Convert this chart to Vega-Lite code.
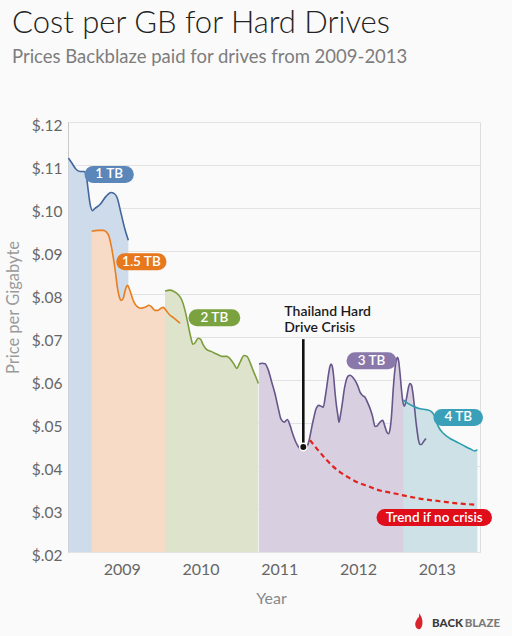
{
  "$schema": "https://vega.github.io/schema/vega-lite/v6.json",
  "width": 412,
  "height": 430,
  "autosize": {"type": "none"},
  "padding": {"left": 68, "top": 122, "right": 32, "bottom": 84},
  "background": "#fafafa",
  "config": {
    "font": "Lato",
    "view": {"stroke": "#dedede", "fill": null}
  },
  "title": {
    "text": "Cost per GB for Hard Drives",
    "subtitle": "Prices Backblaze paid for drives from 2009-2013",
    "anchor": "start",
    "frame": "group",
    "dx": -56,
    "offset": 51,
    "font": "Lato",
    "fontSize": 31,
    "fontWeight": 300,
    "color": "#222222",
    "subtitleFont": "Lato",
    "subtitleFontSize": 18.5,
    "subtitleFontWeight": 400,
    "subtitleColor": "#7d7d7d",
    "subtitlePadding": 8
  },
  "datasets": {
    "lines": [
      {"series": "1 TB", "t": 2008.324, "p": 0.1116},
      {"series": "1 TB", "t": 2008.369, "p": 0.1104},
      {"series": "1 TB", "t": 2008.420, "p": 0.1090},
      {"series": "1 TB", "t": 2008.470, "p": 0.1085},
      {"series": "1 TB", "t": 2008.521, "p": 0.1085},
      {"series": "1 TB", "t": 2008.547, "p": 0.1078},
      {"series": "1 TB", "t": 2008.572, "p": 0.1045},
      {"series": "1 TB", "t": 2008.597, "p": 0.1011},
      {"series": "1 TB", "t": 2008.629, "p": 0.0994},
      {"series": "1 TB", "t": 2008.661, "p": 0.0999},
      {"series": "1 TB", "t": 2008.724, "p": 0.1008},
      {"series": "1 TB", "t": 2008.801, "p": 0.1027},
      {"series": "1 TB", "t": 2008.864, "p": 0.1036},
      {"series": "1 TB", "t": 2008.902, "p": 0.1034},
      {"series": "1 TB", "t": 2008.940, "p": 0.1025},
      {"series": "1 TB", "t": 2008.991, "p": 0.0988},
      {"series": "1 TB", "t": 2009.042, "p": 0.0950},
      {"series": "1 TB", "t": 2009.084, "p": 0.0925},
      {"series": "1.5 TB", "t": 2008.619, "p": 0.0946},
      {"series": "1.5 TB", "t": 2008.699, "p": 0.0948},
      {"series": "1.5 TB", "t": 2008.763, "p": 0.0948},
      {"series": "1.5 TB", "t": 2008.807, "p": 0.0944},
      {"series": "1.5 TB", "t": 2008.839, "p": 0.0934},
      {"series": "1.5 TB", "t": 2008.864, "p": 0.0915},
      {"series": "1.5 TB", "t": 2008.893, "p": 0.0885},
      {"series": "1.5 TB", "t": 2008.921, "p": 0.0850},
      {"series": "1.5 TB", "t": 2008.947, "p": 0.0813},
      {"series": "1.5 TB", "t": 2008.972, "p": 0.0792},
      {"series": "1.5 TB", "t": 2008.997, "p": 0.0785},
      {"series": "1.5 TB", "t": 2009.023, "p": 0.0792},
      {"series": "1.5 TB", "t": 2009.048, "p": 0.0811},
      {"series": "1.5 TB", "t": 2009.074, "p": 0.0820},
      {"series": "1.5 TB", "t": 2009.099, "p": 0.0811},
      {"series": "1.5 TB", "t": 2009.124, "p": 0.0797},
      {"series": "1.5 TB", "t": 2009.156, "p": 0.0781},
      {"series": "1.5 TB", "t": 2009.194, "p": 0.0771},
      {"series": "1.5 TB", "t": 2009.245, "p": 0.0767},
      {"series": "1.5 TB", "t": 2009.296, "p": 0.0769},
      {"series": "1.5 TB", "t": 2009.347, "p": 0.0774},
      {"series": "1.5 TB", "t": 2009.385, "p": 0.0769},
      {"series": "1.5 TB", "t": 2009.423, "p": 0.0762},
      {"series": "1.5 TB", "t": 2009.461, "p": 0.0762},
      {"series": "1.5 TB", "t": 2009.499, "p": 0.0767},
      {"series": "1.5 TB", "t": 2009.528, "p": 0.0769},
      {"series": "1.5 TB", "t": 2009.563, "p": 0.0762},
      {"series": "1.5 TB", "t": 2009.601, "p": 0.0753},
      {"series": "1.5 TB", "t": 2009.664, "p": 0.0744},
      {"series": "1.5 TB", "t": 2009.741, "p": 0.0732},
      {"series": "2 TB", "t": 2009.550, "p": 0.0807},
      {"series": "2 TB", "t": 2009.613, "p": 0.0809},
      {"series": "2 TB", "t": 2009.664, "p": 0.0806},
      {"series": "2 TB", "t": 2009.715, "p": 0.0799},
      {"series": "2 TB", "t": 2009.766, "p": 0.0785},
      {"series": "2 TB", "t": 2009.804, "p": 0.0762},
      {"series": "2 TB", "t": 2009.842, "p": 0.0730},
      {"series": "2 TB", "t": 2009.874, "p": 0.0702},
      {"series": "2 TB", "t": 2009.905, "p": 0.0683},
      {"series": "2 TB", "t": 2009.937, "p": 0.0688},
      {"series": "2 TB", "t": 2009.969, "p": 0.0697},
      {"series": "2 TB", "t": 2010.001, "p": 0.0695},
      {"series": "2 TB", "t": 2010.032, "p": 0.0683},
      {"series": "2 TB", "t": 2010.077, "p": 0.0671},
      {"series": "2 TB", "t": 2010.140, "p": 0.0666},
      {"series": "2 TB", "t": 2010.210, "p": 0.0660},
      {"series": "2 TB", "t": 2010.273, "p": 0.0655},
      {"series": "2 TB", "t": 2010.337, "p": 0.0655},
      {"series": "2 TB", "t": 2010.382, "p": 0.0648},
      {"series": "2 TB", "t": 2010.426, "p": 0.0637},
      {"series": "2 TB", "t": 2010.460, "p": 0.0627},
      {"series": "2 TB", "t": 2010.502, "p": 0.0641},
      {"series": "2 TB", "t": 2010.553, "p": 0.0657},
      {"series": "2 TB", "t": 2010.591, "p": 0.0655},
      {"series": "2 TB", "t": 2010.629, "p": 0.0641},
      {"series": "2 TB", "t": 2010.667, "p": 0.0623},
      {"series": "2 TB", "t": 2010.706, "p": 0.0606},
      {"series": "2 TB", "t": 2010.735, "p": 0.0592},
      {"series": "3 TB", "t": 2010.744, "p": 0.0637},
      {"series": "3 TB", "t": 2010.782, "p": 0.0639},
      {"series": "3 TB", "t": 2010.820, "p": 0.0638},
      {"series": "3 TB", "t": 2010.862, "p": 0.0623},
      {"series": "3 TB", "t": 2010.902, "p": 0.0597},
      {"series": "3 TB", "t": 2010.947, "p": 0.0568},
      {"series": "3 TB", "t": 2010.985, "p": 0.0537},
      {"series": "3 TB", "t": 2011.023, "p": 0.0509},
      {"series": "3 TB", "t": 2011.065, "p": 0.0502},
      {"series": "3 TB", "t": 2011.103, "p": 0.0508},
      {"series": "3 TB", "t": 2011.137, "p": 0.0495},
      {"series": "3 TB", "t": 2011.169, "p": 0.0476},
      {"series": "3 TB", "t": 2011.201, "p": 0.0460},
      {"series": "3 TB", "t": 2011.232, "p": 0.0448},
      {"series": "3 TB", "t": 2011.264, "p": 0.0440},
      {"series": "3 TB", "t": 2011.296, "p": 0.0436},
      {"series": "3 TB", "t": 2011.321, "p": 0.0437},
      {"series": "3 TB", "t": 2011.347, "p": 0.0443},
      {"series": "3 TB", "t": 2011.370, "p": 0.0453},
      {"series": "3 TB", "t": 2011.391, "p": 0.0469},
      {"series": "3 TB", "t": 2011.413, "p": 0.0490},
      {"series": "3 TB", "t": 2011.438, "p": 0.0511},
      {"series": "3 TB", "t": 2011.463, "p": 0.0530},
      {"series": "3 TB", "t": 2011.486, "p": 0.0539},
      {"series": "3 TB", "t": 2011.505, "p": 0.0541},
      {"series": "3 TB", "t": 2011.531, "p": 0.0539},
      {"series": "3 TB", "t": 2011.560, "p": 0.0537},
      {"series": "3 TB", "t": 2011.582, "p": 0.0557},
      {"series": "3 TB", "t": 2011.603, "p": 0.0583},
      {"series": "3 TB", "t": 2011.626, "p": 0.0613},
      {"series": "3 TB", "t": 2011.645, "p": 0.0632},
      {"series": "3 TB", "t": 2011.658, "p": 0.0637},
      {"series": "3 TB", "t": 2011.674, "p": 0.0632},
      {"series": "3 TB", "t": 2011.690, "p": 0.0611},
      {"series": "3 TB", "t": 2011.709, "p": 0.0571},
      {"series": "3 TB", "t": 2011.728, "p": 0.0539},
      {"series": "3 TB", "t": 2011.747, "p": 0.0516},
      {"series": "3 TB", "t": 2011.759, "p": 0.0502},
      {"series": "3 TB", "t": 2011.778, "p": 0.0518},
      {"series": "3 TB", "t": 2011.801, "p": 0.0545},
      {"series": "3 TB", "t": 2011.829, "p": 0.0581},
      {"series": "3 TB", "t": 2011.857, "p": 0.0603},
      {"series": "3 TB", "t": 2011.880, "p": 0.0610},
      {"series": "3 TB", "t": 2011.899, "p": 0.0611},
      {"series": "3 TB", "t": 2011.931, "p": 0.0607},
      {"series": "3 TB", "t": 2011.963, "p": 0.0599},
      {"series": "3 TB", "t": 2011.994, "p": 0.0588},
      {"series": "3 TB", "t": 2012.026, "p": 0.0572},
      {"series": "3 TB", "t": 2012.058, "p": 0.0564},
      {"series": "3 TB", "t": 2012.090, "p": 0.0560},
      {"series": "3 TB", "t": 2012.121, "p": 0.0548},
      {"series": "3 TB", "t": 2012.153, "p": 0.0534},
      {"series": "3 TB", "t": 2012.185, "p": 0.0516},
      {"series": "3 TB", "t": 2012.217, "p": 0.0492},
      {"series": "3 TB", "t": 2012.242, "p": 0.0493},
      {"series": "3 TB", "t": 2012.280, "p": 0.0502},
      {"series": "3 TB", "t": 2012.314, "p": 0.0506},
      {"series": "3 TB", "t": 2012.344, "p": 0.0491},
      {"series": "3 TB", "t": 2012.369, "p": 0.0478},
      {"series": "3 TB", "t": 2012.388, "p": 0.0475},
      {"series": "3 TB", "t": 2012.407, "p": 0.0485},
      {"series": "3 TB", "t": 2012.426, "p": 0.0516},
      {"series": "3 TB", "t": 2012.449, "p": 0.0581},
      {"series": "3 TB", "t": 2012.471, "p": 0.0627},
      {"series": "3 TB", "t": 2012.490, "p": 0.0648},
      {"series": "3 TB", "t": 2012.502, "p": 0.0653},
      {"series": "3 TB", "t": 2012.515, "p": 0.0646},
      {"series": "3 TB", "t": 2012.534, "p": 0.0616},
      {"series": "3 TB", "t": 2012.551, "p": 0.0581},
      {"series": "3 TB", "t": 2012.566, "p": 0.0555},
      {"series": "3 TB", "t": 2012.589, "p": 0.0539},
      {"series": "3 TB", "t": 2012.604, "p": 0.0546},
      {"series": "3 TB", "t": 2012.623, "p": 0.0564},
      {"series": "3 TB", "t": 2012.642, "p": 0.0583},
      {"series": "3 TB", "t": 2012.661, "p": 0.0592},
      {"series": "3 TB", "t": 2012.680, "p": 0.0588},
      {"series": "3 TB", "t": 2012.693, "p": 0.0576},
      {"series": "3 TB", "t": 2012.716, "p": 0.0541},
      {"series": "3 TB", "t": 2012.735, "p": 0.0506},
      {"series": "3 TB", "t": 2012.754, "p": 0.0478},
      {"series": "3 TB", "t": 2012.769, "p": 0.0460},
      {"series": "3 TB", "t": 2012.788, "p": 0.0450},
      {"series": "3 TB", "t": 2012.807, "p": 0.0450},
      {"series": "3 TB", "t": 2012.830, "p": 0.0456},
      {"series": "3 TB", "t": 2012.864, "p": 0.0464},
      {"series": "4 TB", "t": 2012.576, "p": 0.0554},
      {"series": "4 TB", "t": 2012.639, "p": 0.0545},
      {"series": "4 TB", "t": 2012.703, "p": 0.0539},
      {"series": "4 TB", "t": 2012.788, "p": 0.0533},
      {"series": "4 TB", "t": 2012.873, "p": 0.0531},
      {"series": "4 TB", "t": 2012.937, "p": 0.0526},
      {"series": "4 TB", "t": 2012.978, "p": 0.0514},
      {"series": "4 TB", "t": 2013.020, "p": 0.0492},
      {"series": "4 TB", "t": 2013.084, "p": 0.0476},
      {"series": "4 TB", "t": 2013.169, "p": 0.0464},
      {"series": "4 TB", "t": 2013.254, "p": 0.0456},
      {"series": "4 TB", "t": 2013.338, "p": 0.0448},
      {"series": "4 TB", "t": 2013.423, "p": 0.0440},
      {"series": "4 TB", "t": 2013.486, "p": 0.0435},
      {"series": "4 TB", "t": 2013.516, "p": 0.0438}
    ],
    "trend": [
      {"t": 2011.391, "p": 0.0460},
      {"t": 2011.493, "p": 0.0437},
      {"t": 2011.603, "p": 0.0414},
      {"t": 2011.683, "p": 0.0399},
      {"t": 2011.772, "p": 0.0386},
      {"t": 2011.874, "p": 0.0374},
      {"t": 2011.984, "p": 0.0363},
      {"t": 2012.128, "p": 0.0353},
      {"t": 2012.280, "p": 0.0343},
      {"t": 2012.445, "p": 0.0337},
      {"t": 2012.619, "p": 0.0330},
      {"t": 2012.826, "p": 0.0323},
      {"t": 2013.042, "p": 0.0318},
      {"t": 2013.270, "p": 0.0313},
      {"t": 2013.508, "p": 0.0310}
    ],
    "crisis": [
      {"t": 2011.306, "p": 0.0695, "p2": 0.0444}
    ],
    "crisisText": [
      {"t": 2011.065, "p": 0.0750, "text": "Thailand Hard\nDrive Crisis"}
    ],
    "pills": [
      {"label": "1 TB", "t": 2008.841, "t1": 2008.636, "t2": 2009.046, "p": 0.1078},
      {"label": "1.5 TB", "t": 2009.250, "t1": 2009.038, "t2": 2009.461, "p": 0.0875},
      {"label": "2 TB", "t": 2010.177, "t1": 2009.956, "t2": 2010.398, "p": 0.0745},
      {"label": "3 TB", "t": 2012.173, "t1": 2011.963, "t2": 2012.382, "p": 0.0645},
      {"label": "4 TB", "t": 2013.274, "t1": 2013.067, "t2": 2013.480, "p": 0.0513},
      {"label": "Trend if no crisis", "t": 2012.969, "t1": 2012.344, "t2": 2013.594, "p": 0.0280}
    ],
    "logo": [
      {"label": "BACK", "t": 2013.334, "p": 0.00335},
      {"label": "BLAZE", "t": 2013.804, "p": 0.00335}
    ],
    "flame": [
      {"t": 2012.773, "p": 0.00388}
    ]
  },
  "layer": [
    {
      "data": {"name": "lines"},
      "mark": {"type": "area", "interpolate": "monotone", "opacity": 1},
      "encoding": {
        "x": {
          "field": "t", "type": "quantitative",
          "scale": {"domain": [2008.318, 2013.55], "nice": false, "zero": false},
          "axis": {
            "title": "Year",
            "values": [2009, 2010, 2011, 2012, 2013],
            "format": "d",
            "grid": false,
            "domain": false,
            "ticks": false,
            "tickSize": 0,
            "labelPadding": 9,
            "labelFontSize": 16,
            "labelColor": "#666666",
            "labelFont": "Lato",
            "titleFont": "Lato",
            "titleFontSize": 16,
            "titleFontWeight": "normal",
            "titleColor": "#888888",
            "titleBaseline": "alphabetic",
            "titleX": 203,
            "titleY": 51
          }
        },
        "y": {
          "field": "p", "type": "quantitative", "stack": null,
          "scale": {"domain": [0.02, 0.12], "nice": false, "zero": false},
          "axis": {
            "title": "Price per Gigabyte",
            "values": [0.02, 0.03, 0.04, 0.05, 0.06, 0.07, 0.08, 0.09, 0.10, 0.11, 0.12],
            "labelExpr": "'$' + substring(format(datum.value, '.2f'), 1)",
            "grid": true,
            "gridColor": "#e3e3e3",
            "domainColor": "#c9c9c9",
            "ticks": false,
            "tickSize": 0,
            "labelPadding": 6,
            "labelOffset": 3,
            "labelFontSize": 15.5,
            "labelColor": "#666666",
            "labelFont": "Lato",
            "titleFont": "Lato",
            "titleFontSize": 16.5,
            "titleFontWeight": "normal",
            "titleColor": "#9a9a9a",
            "titleAngle": -90,
            "titleAlign": "center",
            "titleBaseline": "alphabetic",
            "titleX": -50,
            "titleY": 185
          }
        },
        "y2": {"datum": 0.02},
        "color": {
          "field": "series", "type": "nominal", "legend": null,
          "scale": {
            "domain": ["1 TB", "1.5 TB", "2 TB", "3 TB", "4 TB"],
            "range": ["#cedbea", "#f8dbc7", "#dee3cb", "#d8cfe0", "#cde1e6"]
          }
        }
      }
    },
    {
      "data": {"name": "lines"},
      "mark": {"type": "line", "interpolate": "monotone", "strokeWidth": 1.6},
      "encoding": {
        "x": {"field": "t", "type": "quantitative"},
        "y": {"field": "p", "type": "quantitative"},
        "color": {
          "field": "series", "type": "nominal", "legend": null,
          "scale": {
            "domain": ["1 TB", "1.5 TB", "2 TB", "3 TB", "4 TB"],
            "range": ["#41679c", "#e67e22", "#7e9d3e", "#66568a", "#2a9cb0"]
          }
        }
      }
    },
    {
      "data": {"name": "trend"},
      "mark": {"type": "line", "interpolate": "monotone", "strokeWidth": 2.2, "strokeDash": [5, 3.5], "color": "#e3231b"},
      "encoding": {
        "x": {"field": "t", "type": "quantitative"},
        "y": {"field": "p", "type": "quantitative"}
      }
    },
    {
      "data": {"name": "crisis"},
      "mark": {"type": "rule", "color": "#111111", "strokeWidth": 2.6},
      "encoding": {
        "x": {"field": "t", "type": "quantitative"},
        "y": {"field": "p", "type": "quantitative"},
        "y2": {"field": "p2"}
      }
    },
    {
      "data": {"name": "crisis"},
      "mark": {"type": "point", "filled": true, "size": 55, "color": "#111111", "stroke": "#ffffff", "strokeWidth": 1.5, "opacity": 1},
      "encoding": {
        "x": {"field": "t", "type": "quantitative"},
        "y": {"field": "p2", "type": "quantitative"}
      }
    },
    {
      "data": {"name": "crisisText"},
      "mark": {"type": "text", "align": "left", "baseline": "alphabetic", "lineBreak": "\n", "lineHeight": 16.7, "font": "Lato", "fontSize": 14, "fontWeight": 600, "color": "#1a1a1a"},
      "encoding": {
        "x": {"field": "t", "type": "quantitative"},
        "y": {"field": "p", "type": "quantitative"},
        "text": {"field": "text"}
      }
    },
    {
      "data": {"name": "pills"},
      "mark": {"type": "rule", "strokeWidth": 17, "strokeCap": "round", "opacity": 1},
      "encoding": {
        "x": {"field": "t1", "type": "quantitative"},
        "x2": {"field": "t2"},
        "y": {"field": "p", "type": "quantitative"},
        "color": {
          "field": "label", "type": "nominal", "legend": null,
          "scale": {
            "domain": ["1 TB", "1.5 TB", "2 TB", "3 TB", "4 TB", "Trend if no crisis"],
            "range": ["#5b86b9", "#e7781c", "#7aa340", "#8978a9", "#3a9fb8", "#e00d1b"]
          }
        }
      }
    },
    {
      "data": {"name": "pills"},
      "mark": {"type": "text", "align": "center", "baseline": "middle", "font": "Lato", "fontSize": 13.5, "fontWeight": 600, "color": "#ffffff"},
      "encoding": {
        "x": {"field": "t", "type": "quantitative"},
        "y": {"field": "p", "type": "quantitative"},
        "text": {"field": "label"}
      }
    },
    {
      "data": {"name": "logo"},
      "mark": {"type": "text", "align": "right", "baseline": "middle", "font": "Lato", "fontSize": 11.5, "fontWeight": 900},
      "encoding": {
        "x": {"field": "t", "type": "quantitative"},
        "y": {"field": "p", "type": "quantitative"},
        "text": {"field": "label"},
        "color": {
          "field": "label", "type": "nominal", "legend": null,
          "scale": {"domain": ["BACK", "BLAZE"], "range": ["#3a3a3a", "#7a7a7a"]}
        }
      }
    },
    {
      "data": {"name": "flame"},
      "mark": {"type": "point", "filled": true, "size": 256, "opacity": 1, "color": "#d9232d",
        "shape": "M0.05,-1 C0.35,-0.6 0.5,-0.2 0.45,0.3 C0.4,0.8 0.15,1 0,1 C-0.25,1 -0.45,0.75 -0.45,0.35 C-0.45,0 -0.2,-0.2 -0.1,-0.5 C0,-0.35 0.05,-0.6 0.05,-1 Z"},
      "encoding": {
        "x": {"field": "t", "type": "quantitative"},
        "y": {"field": "p", "type": "quantitative"}
      }
    }
  ],
  "resolve": {"scale": {"color": "independent"}}
}
